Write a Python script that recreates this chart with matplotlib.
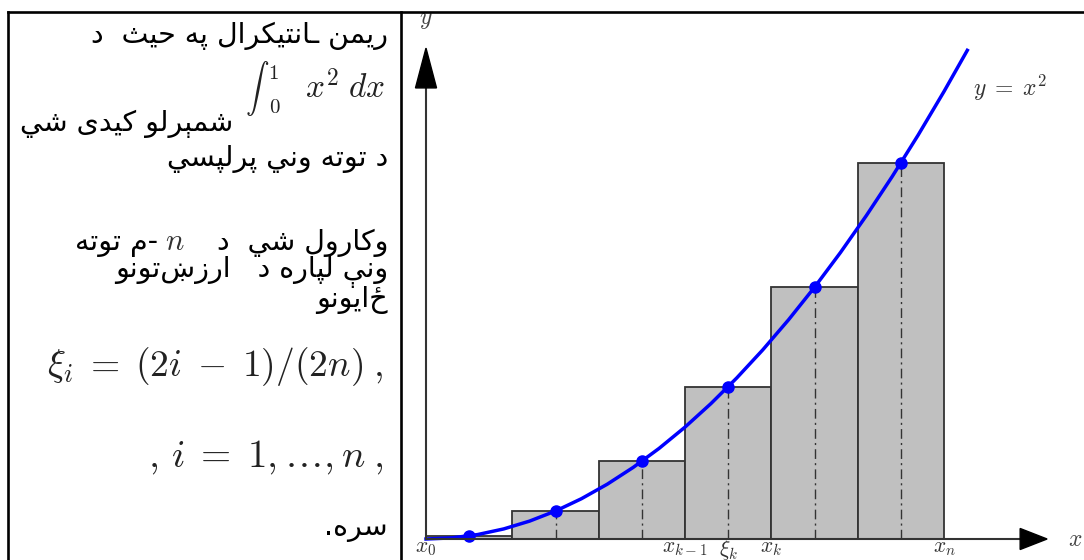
import numpy as np
import matplotlib
matplotlib.use("Agg")
import matplotlib.pyplot as plt
from matplotlib.lines import Line2D

plt.rcParams["mathtext.fontset"] = "cm"
plt.rcParams["font.family"] = ["DejaVu Sans"]

# partition of [0, 1] and the midpoint samples
edges = [0.0, 0.1667, 0.3333, 0.5, 0.6667, 0.8333, 1.0]
xi = [0.0833, 0.25, 0.4167, 0.5833, 0.75, 0.9167]
heights = [0.007, 0.0625, 0.174, 0.340, 0.5625, 0.840]

# points read along the blue curve y = x^2
curve_x = [0.0, 0.05, 0.1, 0.15, 0.2, 0.25, 0.3, 0.35, 0.4, 0.45, 0.5,
           0.55, 0.6, 0.65, 0.7, 0.75, 0.8, 0.85, 0.9, 0.95, 1.0, 1.045]
curve_y = [0.0, 0.0025, 0.01, 0.0225, 0.04, 0.0625, 0.09, 0.1225, 0.16,
           0.2025, 0.25, 0.3025, 0.36, 0.4225, 0.49, 0.5625, 0.64, 0.7225,
           0.81, 0.9025, 1.0, 1.092]

tick_pos = [0.0, 0.5, 0.5833, 0.6667, 1.0]
tick_labels = [r"$x_0$", r"$x_{k-1}$", r"$\xi_k$", r"$x_k$", r"$x_n$"]

# Pashto lines (logical order)
line1 = "ریمن ـانتیکرال په حیث  د"
line3 = "شمېرلو کیدی شي"
line4 = "د توته وني پرلپسي"
line5a = "وکارول شي  د"
line5b = "-م توته"
line6 = "ونې لپاره د   ارزښتونو"
line7 = "ځایونو"
line10 = "سره."

# contextual forms: isolated, final, initial, medial
FORMS = {
    "ا": ("\uFE8D", "\uFE8E", None, None),
    "پ": ("\uFB56", "\uFB57", "\uFB58", "\uFB59"),
    "ت": ("\uFE95", "\uFE96", "\uFE97", "\uFE98"),
    "ث": ("\uFE99", "\uFE9A", "\uFE9B", "\uFE9C"),
    "ح": ("\uFEA1", "\uFEA2", "\uFEA3", "\uFEA4"),
    "د": ("\uFEA9", "\uFEAA", None, None),
    "ر": ("\uFEAD", "\uFEAE", None, None),
    "ز": ("\uFEAF", "\uFEB0", None, None),
    "س": ("\uFEB1", "\uFEB2", "\uFEB3", "\uFEB4"),
    "ش": ("\uFEB5", "\uFEB6", "\uFEB7", "\uFEB8"),
    "ک": ("\uFB8E", "\uFB8F", "\uFB90", "\uFB91"),
    "ل": ("\uFEDD", "\uFEDE", "\uFEDF", "\uFEE0"),
    "م": ("\uFEE1", "\uFEE2", "\uFEE3", "\uFEE4"),
    "ن": ("\uFEE5", "\uFEE6", "\uFEE7", "\uFEE8"),
    "ه": ("\uFEE9", "\uFEEA", "\uFEEB", "\uFEEC"),
    "و": ("\uFEED", "\uFEEE", None, None),
    "ي": ("\uFEF1", "\uFEF2", "\uFEF3", "\uFEF4"),
    "ی": ("\uFBFC", "\uFBFD", "\uFBFE", "\uFBFF"),
    "ې": ("\uFBE4", "\uFBE5", "\uFBE6", "\uFBE7"),
    "ـ": ("ـ", "ـ", "ـ", "ـ"),
}


def shape(s):
    """Pick joined letter forms and lay the line out right to left."""
    out = []
    for i, ch in enumerate(s):
        if ch not in FORMS:
            out.append(ch)
            continue
        iso, fin, ini, med = FORMS[ch]
        prev = s[i - 1] if i > 0 else ""
        nxt = s[i + 1] if i + 1 < len(s) else ""
        jp = prev in FORMS and FORMS[prev][2] is not None
        jn = nxt in FORMS and ini is not None
        if jp and jn:
            out.append(med)
        elif jp:
            out.append(fin)
        elif jn:
            out.append(ini)
        else:
            out.append(iso)
    return "".join(reversed(out))


W, H = 1084, 560
fig = plt.figure(figsize=(W / 100, H / 100), dpi=100)


def fx(px):
    return px / W


def fy(py):
    return 1 - py / H


# frame lines
for xs, ys in [([8, W], [12, 12]), ([8, 8], [12, H]), ([401, 401], [12, H])]:
    fig.add_artist(Line2D([fx(v) for v in xs], [fy(v) for v in ys],
                          color="black", lw=1.9, transform=fig.transFigure))

# left panel text
ar = dict(ha="right", va="center", fontsize=20.5, color="black")
fig.text(fx(388), fy(36), shape(line1), **ar)
# inline integral: sign, limits and integrand placed separately
fig.text(fx(257), fy(89), r"$\int$", ha="center", va="center", fontsize=17, color="#222222")
fig.text(fx(273), fy(73), r"$1$", ha="center", va="center", fontsize=15, color="#222222")
fig.text(fx(275), fy(107), r"$0$", ha="center", va="center", fontsize=15, color="#222222")
fig.text(fx(385), fy(88), r"$x^2\;dx$", ha="right", va="center", fontsize=24, color="#222222")
fig.text(fx(233), fy(124), shape(line3), **ar)
fig.text(fx(388), fy(159), shape(line4), **ar)
fig.text(fx(388), fy(243), shape(line5a), **ar)
fig.text(fx(175), fy(241), r"$n$", ha="center", va="center", fontsize=22, color="#333333")
fig.text(fx(158), fy(243), shape(line5b), **ar)
fig.text(fx(388), fy(272), shape(line6), **ar)
fig.text(fx(388), fy(300), shape(line7), **ar)
fig.text(fx(384), fy(366), r"$\xi_i\;=\;(2i\;-\;1)/(2n)\;,$", ha="right", va="center",
         fontsize=27, color="#222222")
fig.text(fx(384), fy(457), r"$,\, i\;=\;1,\ldots,n\;,$", ha="right", va="center",
         fontsize=28, color="#222222")
fig.text(fx(388), fy(528), shape(line10), **ar)

# chart panel: x 0..1 -> 426..944 px, y 0 -> 539 px, 447.5 px per unit
sx, sy = 518.0, 447.5
ax = fig.add_axes([fx(402), 0, fx(W) - fx(402), 1 - 12 / H])
ax.set_xlim((402 - 426) / sx, (W - 426) / sx)
ax.set_ylim(-(H - 539) / sy, (539 - 12) / sy)
ax.axis("off")

ax.bar(edges[:-1], heights, width=np.diff(edges), align="edge",
       color="#c0c0c0", edgecolor="#333333", linewidth=1.3, zorder=1)
ax.vlines(xi[1:], 0, heights[1:], colors="#333333", linewidth=1.0,
          linestyles=(0, (7, 3, 1.5, 3)), zorder=2)
ax.plot(curve_x, curve_y, color="#0000ff", lw=2.5, zorder=3)
ax.plot(xi, heights, "o", color="#0000ff", ms=8, zorder=4)

# axes with arrow heads
ax.plot([0, 1.147], [0, 0], color="#333333", lw=1.5, zorder=5)
ax.plot([0, 0], [0, 1.008], color="#333333", lw=1.5, zorder=5)
ax.fill([1.147, 1.199, 1.147], [-0.0235, 0, 0.0235], color="black", zorder=5)
ax.fill([-0.0203, 0, 0.0203], [1.008, 1.097, 1.008], color="black", zorder=5)

for p, lab in zip(tick_pos, tick_labels):
    ax.text(p, 0.002, lab, ha="center", va="top", fontsize=15.5, color="#333333")
ax.text(0, 1.163, r"$y$", ha="center", va="center", fontsize=17, color="#444444")
ax.text(1.253, 0.0, r"$x$", ha="center", va="center", fontsize=17, color="#444444")
ax.text(1.127, 1.008, r"$y\;=\;x^2$", ha="center", va="center", fontsize=17, color="#333333")

fig.savefig("out.png", dpi=100)
